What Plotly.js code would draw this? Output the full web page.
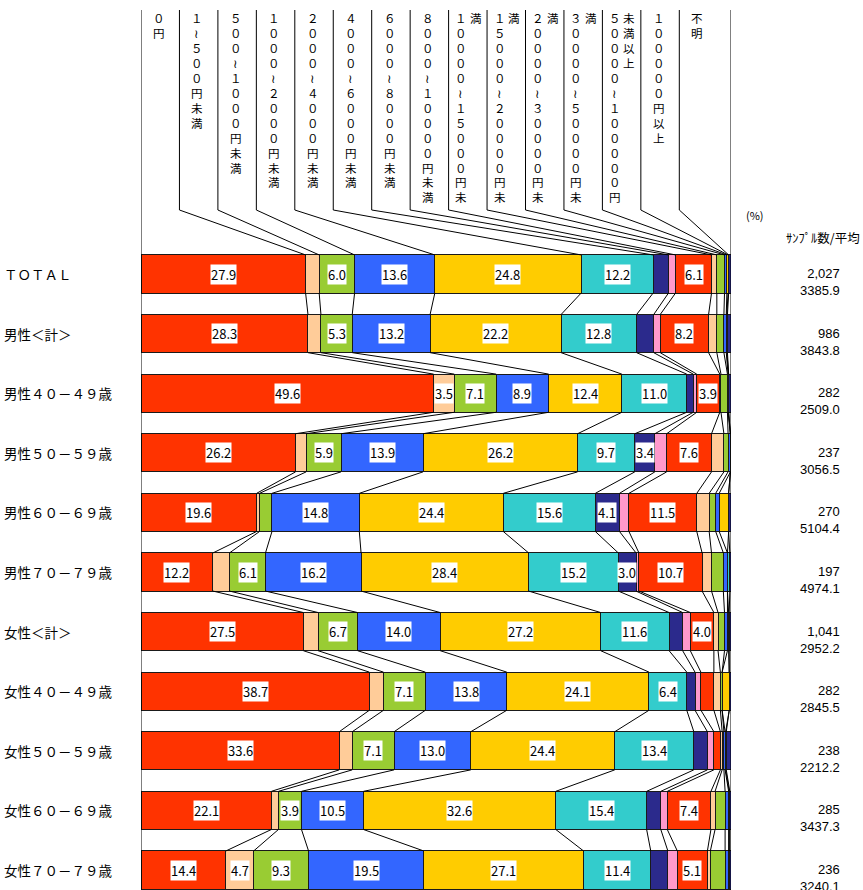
<!DOCTYPE html>
<html>
<head>
<meta charset="utf-8">
<script src="https://cdn.plot.ly/plotly-3.0.1.min.js"></script>
<style>
  html, body { margin: 0; padding: 0; background: #fff; }
  #chart { width: 863px; height: 890px; }
</style>
</head>
<body>
<div id="chart"></div>
<script>
// Monthly spending bands (series order along each bar)
const categories = [
  '0円', '1~500円未満', '500~1000円未満', '1000~2000円未満', '2000~4000円未満',
  '4000~6000円未満', '6000~8000円未満', '8000~10000円未満', '10000~15000円未満',
  '15000~20000円未満', '20000~30000円未満', '30000~50000円未満', '50000~100000円未満',
  '100000円以上', '不明'
];

// Vertical header text, one string per printed column
const headerCols = [
  ['０円'],
  ['１≀５００円未満'],
  ['５００≀１０００円未満'],
  ['１０００≀２０００円未満'],
  ['２０００≀４０００円未満'],
  ['４０００≀６０００円未満'],
  ['６０００≀８０００円未満'],
  ['８０００≀１００００円未満'],
  ['１００００≀１５０００円未', '満'],
  ['１５０００≀２００００円未', '満'],
  ['２００００≀３００００円未', '満'],
  ['３００００≀５００００円未', '満'],
  ['５００００≀１０００００円', '未満以上'],
  ['１０００００円以上'],
  ['不明']
];

const rowLabels = [
  'ＴＯＴＡＬ', '男性＜計＞', '男性４０－４９歳', '男性５０－５９歳', '男性６０－６９歳',
  '男性７０－７９歳', '女性＜計＞', '女性４０－４９歳', '女性５０－５９歳',
  '女性６０－６９歳', '女性７０－７９歳'
];
const sampleN = ['2,027', '986', '282', '237', '270', '197', '1,041', '282', '238', '285', '236'];
const avgYen  = ['3385.9', '3843.8', '2509.0', '3056.5', '5104.4', '4974.1', '2952.2', '2845.5', '2212.2', '3437.3', '3240.1'];

// Percent shares per group, in category order
const vTotal    = [27.9, 2.3, 6.0, 13.6, 24.8, 12.2, 2.6, 1.2, 6.1, 0.9, 1.3, 0.4, 0.2, 0.1, 0.4];
const vMale     = [28.3, 2.2, 5.3, 13.2, 22.2, 12.8, 2.9, 1.1, 8.2, 1.4, 1.2, 0.4, 0.1, 0.1, 0.6];
const vMale40   = [49.6, 3.5, 7.1, 8.9, 12.4, 11.0, 1.1, 0.6, 3.9, 0.2, 1.1, 0.1, 0.1, 0.0, 0.4];
const vMale50   = [26.2, 1.8, 5.9, 13.9, 26.2, 9.7, 3.4, 2.0, 7.6, 2.1, 0.7, 0.4, 0.0, 0.0, 0.1];
const vMale60   = [19.6, 0.5, 2.1, 14.8, 24.4, 15.6, 4.1, 1.6, 11.5, 2.1, 1.1, 0.6, 1.6, 0.0, 0.4];
const vMale70   = [12.2, 2.8, 6.1, 16.2, 28.4, 15.2, 3.0, 0.5, 10.7, 1.6, 2.0, 0.7, 0.0, 0.4, 0.2];
const vFemale   = [27.5, 2.5, 6.7, 14.0, 27.2, 11.6, 2.3, 1.3, 4.0, 0.7, 1.1, 0.5, 0.2, 0.1, 0.3];
const vFemale40 = [38.7, 2.4, 7.1, 13.8, 24.1, 6.4, 1.4, 1.0, 2.2, 1.1, 0.3, 0.0, 1.2, 0.0, 0.3];
const vFemale50 = [33.6, 2.2, 7.1, 13.0, 24.4, 13.4, 2.3, 1.1, 1.1, 0.3, 0.3, 0.2, 0.1, 0.1, 0.8];
const vFemale60 = [22.1, 1.2, 3.9, 10.5, 32.6, 15.4, 2.4, 1.1, 7.4, 0.7, 1.7, 0.6, 0.1, 0.1, 0.2];
const vFemale70 = [14.4, 4.7, 9.3, 19.5, 27.1, 11.4, 2.9, 1.6, 5.1, 0.5, 2.5, 0.6, 0.1, 0.1, 0.2];

const rows = [vTotal, vMale, vMale40, vMale50, vMale60, vMale70,
              vFemale, vFemale40, vFemale50, vFemale60, vFemale70];

const palette = ['#FF3300', '#FFCC99', '#99CC33', '#3366FF', '#FFCC00', '#33CCCC', '#2B2A8C', '#FF99CC'];
const colors = categories.map((_, k) => palette[k % palette.length]);

// ---- layout geometry (pixels) ----
const W = 863, H = 890;
const PL = 141, PW = 590;          // plot left / width
const ROW0 = 274, PITCH = 59.6;    // first bar centre, bar pitch
const BAR = 0.64;                  // bar thickness in row units
const HALF = BAR / 2;
const yOf = px => (px - ROW0) / PITCH;       // pixel -> row units
const pxX = px => (px - PL) / PW;            // pixel -> paper x
const dX = px => (px - PL) / PW * 100;       // pixel -> data x
const FONT = '"Noto Sans CJK JP", "Noto Sans", sans-serif';
const NUM_FONT = '"Liberation Sans", Arial, sans-serif';

// stacked boundaries per row (normalised to 100)
const bounds = rows.map(r => {
  const tot = r.reduce((a, b) => a + b, 0);
  const out = [0];
  let acc = 0;
  r.forEach(v => { acc += v; out.push(acc / tot * 100); });
  return out;
});

const traces = categories.map((name, k) => ({
  type: 'bar',
  orientation: 'h',
  name: name,
  x: rows.map(r => r[k]),
  y: rows.map((_, i) => i),
  width: BAR,
  marker: { color: colors[k], line: { color: '#1a1a1a', width: 1 } },
  hoverinfo: 'skip'
}));

const shapes = [];
const line = { color: '#000', width: 1 };

// left axis and right edge
shapes.push({ type: 'line', xref: 'x', yref: 'y', x0: 0, x1: 0, y0: yOf(10), y1: yOf(H), line });
shapes.push({ type: 'line', xref: 'x', yref: 'y', x0: 100, x1: 100, y0: yOf(10), y1: yOf(H), line });

// series lines joining matching boundaries of neighbouring bars
for (let i = 0; i < rows.length - 1; i++) {
  for (let k = 1; k < categories.length; k++) {
    shapes.push({
      type: 'line', xref: 'x', yref: 'y',
      x0: bounds[i][k], y0: i + HALF,
      x1: bounds[i + 1][k], y1: i + 1 - HALF,
      line
    });
  }
}

// header leader lines down to the first bar
const COL_STEP = 38.45, COL_TOP = 10, COL_BEND = 210;
for (let k = 1; k < categories.length; k++) {
  const cx = dX(PL + COL_STEP * k);
  shapes.push({
    type: 'path', xref: 'x', yref: 'y',
    path: `M ${cx} ${yOf(COL_TOP)} L ${cx} ${yOf(COL_BEND)} L ${bounds[0][k]} ${-HALF}`,
    line
  });
}

const annotations = [];

// vertical header labels
headerCols.forEach((cols, k) => {
  const lx = PL + COL_STEP * k;
  const offs = cols.length === 1 ? [18] : [12.5, 27];
  cols.forEach((txt, c) => {
    const chars = Array.from(txt);
    const fs = chars.length >= 14 ? 10.6 : 11.5;
    annotations.push({
      xref: 'paper', yref: 'y', x: pxX(lx + offs[c]), y: yOf(8),
      xanchor: 'center', yanchor: 'top',
      text: chars.join('<br>'), showarrow: false, align: 'center',
      font: { family: FONT, size: fs, color: '#000' }
    });
  });
});

// row labels, then sample size over average on the right
rowLabels.forEach((lab, i) => {
  annotations.push({
    xref: 'paper', yref: 'y', x: pxX(2), y: i, xanchor: 'left', yanchor: 'middle',
    text: lab, showarrow: false, font: { family: FONT, size: 13.5, color: '#000' }
  });
  annotations.push({
    xref: 'paper', yref: 'y', x: pxX(842), y: yOf(ROW0 + PITCH * i + 8), xanchor: 'right', yanchor: 'middle',
    text: sampleN[i] + '<br>' + avgYen[i], showarrow: false, align: 'right',
    font: { family: NUM_FONT, size: 13, color: '#000' }
  });
});

annotations.push({
  xref: 'paper', yref: 'y', x: pxX(755), y: yOf(215), xanchor: 'center', yanchor: 'middle',
  text: '(%)', showarrow: false, font: { family: FONT, size: 11, color: '#000' }
});
annotations.push({
  xref: 'paper', yref: 'y', x: pxX(862), y: yOf(237), xanchor: 'right', yanchor: 'middle',
  text: 'ｻﾝﾌﾟﾙ数/平均', showarrow: false, font: { family: FONT, size: 12.5, color: '#000' }
});

// value labels inside the bars
rows.forEach((r, i) => {
  r.forEach((v, k) => {
    if (v < 3) return;
    annotations.push({
      xref: 'x', yref: 'y', x: (bounds[i][k] + bounds[i][k + 1]) / 2, y: i,
      xanchor: 'center', yanchor: 'middle',
      text: v.toFixed(1), showarrow: false, bgcolor: '#fff', borderpad: 0,
      font: { family: FONT, size: 13, color: '#000' }
    });
  });
});

const layout = {
  width: W, height: H,
  margin: { l: PL, r: W - PL - PW, t: 0, b: 0, pad: 0 },
  paper_bgcolor: '#fff', plot_bgcolor: '#fff',
  barmode: 'stack', barnorm: 'percent',
  showlegend: false,
  xaxis: { range: [0, 100], visible: false, fixedrange: true },
  yaxis: { range: [yOf(H), yOf(0)], visible: false, fixedrange: true },
  shapes, annotations
};

Plotly.newPlot('chart', traces, layout, { staticPlot: true, displayModeBar: false });
</script>
</body>
</html>
